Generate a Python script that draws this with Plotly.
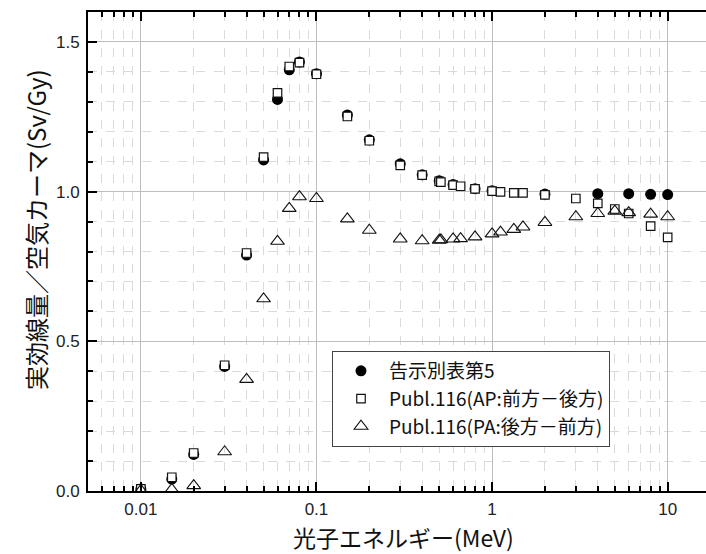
import math
import plotly.graph_objects as go

# ---- data ----
energy_kokuji = [0.01, 0.015, 0.02, 0.03, 0.04, 0.05, 0.06, 0.07, 0.08, 0.1, 0.15, 0.2,
                 0.3, 0.4, 0.5, 0.6, 0.8, 1, 2, 4, 6, 8, 10]
value_kokuji = [0.0065, 0.040, 0.122, 0.416, 0.788, 1.106, 1.308, 1.407, 1.433, 1.394, 1.256, 1.173,
                1.093, 1.056, 1.036, 1.024, 1.010, 1.003, 0.992, 0.993, 0.993, 0.991, 0.990]

energy_p116 = [0.01, 0.015, 0.02, 0.03, 0.04, 0.05, 0.06, 0.07, 0.08, 0.1, 0.15, 0.2,
               0.3, 0.4, 0.5, 0.511, 0.6, 0.662, 0.8, 1, 1.117, 1.33, 1.5, 2, 3, 4, 5, 6, 8, 10]
value_ap = [0.007, 0.046, 0.127, 0.420, 0.795, 1.115, 1.330, 1.418, 1.431, 1.392, 1.251, 1.170,
            1.088, 1.055, 1.034, 1.032, 1.022, 1.018, 1.009, 1.002, 0.999, 0.996, 0.996, 0.989,
            0.977, 0.961, 0.942, 0.927, 0.885, 0.847]
value_pa = [0.002, 0.005, 0.018, 0.131, 0.373, 0.642, 0.834, 0.944, 0.983, 0.977, 0.909, 0.871,
            0.842, 0.836, 0.838, 0.839, 0.842, 0.843, 0.849, 0.859, 0.865, 0.874, 0.882, 0.897,
            0.916, 0.927, 0.935, 0.930, 0.925, 0.916]

names = ["告示別表第5", "Publ.116(AP:前方－後方)", "Publ.116(PA:後方－前方)"]
x_ticks = [0.01, 0.1, 1, 10]
x_ticktext = ["0.01", "0.1", "1", "10"]
y_ticks = [0.0, 0.5, 1.0, 1.5]
x_title = "光子エネルギー(MeV)"
y_title = "実効線量／空気カーマ(Sv/Gy)"

CJK = "Noto Sans CJK JP"
NUM = "Liberation Sans"

fig = go.Figure()
fig.add_trace(go.Scatter(x=energy_kokuji, y=value_kokuji, mode="markers", name=names[0],
                         marker=dict(symbol="circle", size=11, color="black", line=dict(width=0))))
fig.add_trace(go.Scatter(x=energy_p116, y=value_ap, mode="markers", name=names[1],
                         marker=dict(symbol="square", size=8.5, color="white",
                                     line=dict(width=1.2, color="#111"))))
fig.add_trace(go.Scatter(x=energy_p116, y=value_pa, mode="markers", name=names[2],
                         marker=dict(symbol="triangle-up-open", size=12, color="#111",
                                     line=dict(width=1.1))))

L, T, B = 88, 12, 63
W, H = 706, 554
plot_w = W - L
plot_h = H - T - B
x0 = math.log10(0.005)
decade = 175.6
x1 = x0 + plot_w / decade

fig.update_layout(
    width=W, height=H,
    margin=dict(l=L, r=0, t=T, b=B, pad=0),
    plot_bgcolor="white", paper_bgcolor="white",
    showlegend=True,
    legend=dict(x=(332 - L) / plot_w, y=(H - B - 351) / plot_h, xanchor="left", yanchor="top",
                bgcolor="white", bordercolor="#444", borderwidth=1,
                font=dict(family=CJK, size=19, color="#111"),
                itemwidth=46, tracegroupgap=0,
                entrywidth=294, entrywidthmode="pixels"),
)

fig.update_xaxes(
    type="log", range=[x0, x1],
    tickvals=x_ticks, ticktext=x_ticktext,
    ticks="inside", ticklen=9, tickwidth=2, tickcolor="black",
    showline=True, linecolor="black", linewidth=2, mirror="ticks",
    showgrid=True, gridcolor="#bdbdbd", gridwidth=1,
    minor=dict(dtick="D1", ticks="inside", ticklen=5, tickwidth=1.5, tickcolor="black",
               showgrid=True, gridcolor="#dadada", griddash="dash", gridwidth=1),
    tickfont=dict(family=NUM, size=17, color="#222"),
    ticklabelstandoff=2,
    zeroline=False,
)
fig.update_yaxes(
    range=[0, 1.6],
    tickvals=y_ticks, tickformat=".1f",
    ticks="inside", ticklen=9, tickwidth=2, tickcolor="black",
    showline=True, linecolor="black", linewidth=2, mirror=False,
    showgrid=True, gridcolor="#bdbdbd", gridwidth=1,
    minor=dict(dtick=0.1, ticks="inside", ticklen=5, tickwidth=1.5, tickcolor="black",
               showgrid=True, gridcolor="#dadada", griddash="dash", gridwidth=1),
    tickfont=dict(family=NUM, size=17, color="#222"),
    ticklabelstandoff=3,
    zeroline=False,
)

fig.add_annotation(text=x_title, xref="paper", yref="paper",
                   x=(403 - L) / plot_w, y=(H - B - 537) / plot_h,
                   xanchor="center", yanchor="middle", showarrow=False,
                   font=dict(family=CJK, size=23, color="#111"))
fig.add_annotation(text=y_title, xref="paper", yref="paper",
                   x=(35 - L) / plot_w, y=(H - B - 230) / plot_h,
                   xanchor="center", yanchor="middle", showarrow=False, textangle=-90,
                   font=dict(family=CJK, size=24, color="#111"))

fig.write_html("out.html")
